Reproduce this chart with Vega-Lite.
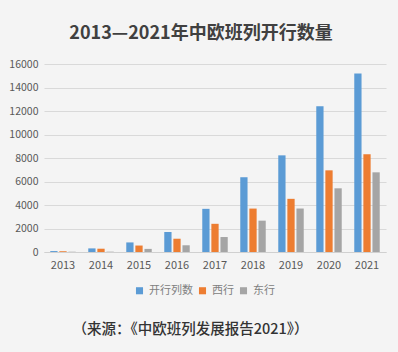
{
  "$schema": "https://vega.github.io/schema/vega-lite/v6.json",
  "width": 342,
  "height": 188,
  "autosize": {"type": "none"},
  "padding": {"left": 44, "top": 64, "right": 12, "bottom": 100},
  "background": "#f4f4f4",
  "title": {
    "text": "2013—2021年中欧班列开行数量",
    "font": "Noto Sans CJK SC",
    "fontSize": 18,
    "fontWeight": "bold",
    "color": "#404040",
    "anchor": "middle",
    "frame": "group",
    "dx": -14,
    "offset": 16
  },
  "data": {
    "values": [
      {"year": "2013", "series": "开行列数", "value": 80},
      {"year": "2013", "series": "西行", "value": 56},
      {"year": "2013", "series": "东行", "value": 24},
      {"year": "2014", "series": "开行列数", "value": 308},
      {"year": "2014", "series": "西行", "value": 280},
      {"year": "2014", "series": "东行", "value": 28},
      {"year": "2015", "series": "开行列数", "value": 815},
      {"year": "2015", "series": "西行", "value": 550},
      {"year": "2015", "series": "东行", "value": 265},
      {"year": "2016", "series": "开行列数", "value": 1702},
      {"year": "2016", "series": "西行", "value": 1130},
      {"year": "2016", "series": "东行", "value": 572},
      {"year": "2017", "series": "开行列数", "value": 3673},
      {"year": "2017", "series": "西行", "value": 2399},
      {"year": "2017", "series": "东行", "value": 1274},
      {"year": "2018", "series": "开行列数", "value": 6363},
      {"year": "2018", "series": "西行", "value": 3696},
      {"year": "2018", "series": "东行", "value": 2667},
      {"year": "2019", "series": "开行列数", "value": 8225},
      {"year": "2019", "series": "西行", "value": 4525},
      {"year": "2019", "series": "东行", "value": 3700},
      {"year": "2020", "series": "开行列数", "value": 12406},
      {"year": "2020", "series": "西行", "value": 6950},
      {"year": "2020", "series": "东行", "value": 5420},
      {"year": "2021", "series": "开行列数", "value": 15183},
      {"year": "2021", "series": "西行", "value": 8320},
      {"year": "2021", "series": "东行", "value": 6780}
    ]
  },
  "mark": {"type": "bar"},
  "encoding": {
    "x": {
      "field": "year",
      "type": "nominal",
      "scale": {"paddingInner": 0.33, "paddingOuter": 0.165},
      "axis": {
        "labelAngle": 0,
        "labelFont": "Noto Sans CJK SC",
        "labelFontSize": 11,
        "labelColor": "#595959",
        "labelPadding": 7,
        "ticks": false,
        "domainColor": "#d0d0d0",
        "title": "（来源：《中欧班列发展报告2021》）",
        "titleFont": "Noto Sans CJK SC",
        "titleFontSize": 14.5,
        "titleFontWeight": 500,
        "titleColor": "#333333",
        "titleBaseline": "middle",
        "titleAlign": "center",
        "titleAnchor": "start",
        "titleX": 146,
        "titleY": 77
      }
    },
    "xOffset": {
      "field": "series",
      "type": "nominal",
      "sort": ["开行列数", "西行", "东行"],
      "scale": {"paddingInner": 0.2, "paddingOuter": 0}
    },
    "y": {
      "field": "value",
      "type": "quantitative",
      "scale": {"domain": [0, 16000]},
      "axis": {
        "values": [0, 2000, 4000, 6000, 8000, 10000, 12000, 14000, 16000],
        "format": "d",
        "title": null,
        "domain": false,
        "ticks": false,
        "labelPadding": 6,
        "labelFont": "Noto Sans CJK SC",
        "labelFontSize": 10.5,
        "labelColor": "#595959",
        "gridColor": "#d9d9d9"
      }
    },
    "color": {
      "field": "series",
      "type": "nominal",
      "sort": ["开行列数", "西行", "东行"],
      "scale": {"domain": ["开行列数", "西行", "东行"], "range": ["#5b9bd5", "#ed7d31", "#a5a5a5"]},
      "legend": {
        "title": null,
        "orient": "none",
        "direction": "horizontal",
        "legendX": 90,
        "legendY": 221,
        "symbolType": "square",
        "symbolSize": 50,
        "symbolStrokeWidth": 0,
        "labelFont": "Noto Sans CJK SC",
        "labelFontSize": 11,
        "labelColor": "#808080",
        "labelOffset": 4,
        "columnPadding": 4
      }
    }
  },
  "config": {"view": {"stroke": null}}
}
